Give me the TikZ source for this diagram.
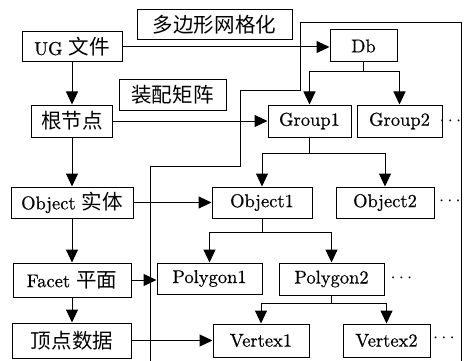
\documentclass[tikz,border=0pt]{standalone}
\usepackage{fontspec}
\usepackage{graphicx}
\setmainfont{Latin Modern Roman}[FakeBold=0.5]
\newfontfamily\cjk{Noto Sans CJK SC}[Scale=1.11]
\newcommand\boxtxt[1]{\scalebox{1.85}{\fontsize{10}{12}\selectfont #1}}
\usetikzlibrary{arrows.meta}
\begin{document}
\begin{tikzpicture}[x=1pt,y=-1pt,
  box/.style={draw, line width=1pt, inner sep=0pt},
  ln/.style={line width=1pt},
  arr/.style={line width=1pt, -{Triangle[length=13pt,width=12pt]}},
  dots/.style={inner sep=0pt}]
\useasboundingbox (0,0) rectangle (466,361);
% frame
\draw[ln] (150,361) -- (150,166) -- (240,166) -- (240,91) -- (300,91) -- (300,23) -- (461,23) -- (461,361);
% left column
\node[box, minimum width=155pt, minimum height=30pt] (mesh) at (214.5,25) {\boxtxt{\cjk 多边形网格化}};
\node[box, minimum width=100pt, minimum height=30pt] (ug) at (72,47) {\boxtxt{UG {\cjk 文件}}};
\node[box, minimum width=107pt, minimum height=30pt] (asm) at (172.5,95) {\boxtxt{\cjk 装配矩阵}};
\node[box, minimum width=81pt, minimum height=32pt] (root) at (72,121) {\boxtxt{\cjk 根节点}};
\node[box, minimum width=122pt, minimum height=31pt] (obj) at (72,202.5) {\boxtxt{Object {\cjk 实体}}};
\node[box, minimum width=118pt, minimum height=34pt] (facet) at (72,280) {\boxtxt{Facet {\cjk 平面}}};
\node[box, minimum width=119pt, minimum height=35pt] (vd) at (72,340.5) {\boxtxt{\cjk 顶点数据}};
% right tree
\node[box, minimum width=67pt, minimum height=32pt] (db) at (363.5,46) {\boxtxt{Db}};
\node[box, minimum width=83pt, minimum height=32pt] (g1) at (309.5,121) {\boxtxt{Group1}};
\node[box, minimum width=85pt, minimum height=32pt] (g2) at (399.5,121) {\boxtxt{Group2}};
\node[box, minimum width=100pt, minimum height=31pt] (o1) at (262,202.5) {\boxtxt{Object1}};
\node[box, minimum width=98pt, minimum height=31pt] (o2) at (385,202.5) {\boxtxt{Object2}};
\node[box, minimum width=105pt, minimum height=31pt] (p1) at (209.5,278.5) {\boxtxt{Polygon1}};
\node[box, minimum width=105pt, minimum height=32pt] (p2) at (331.5,279) {\boxtxt{Polygon2}};
\node[box, minimum width=96pt, minimum height=33pt] (v1) at (261,340.5) {\boxtxt{Vertex1}};
\node[box, minimum width=87pt, minimum height=33pt] (v2) at (386.5,340.5) {\boxtxt{Vertex2}};
% dots
\node[dots] (dg) at (450.5,121) {\boxtxt{$\cdots$}};
\node[dots] (do) at (450,201) {\boxtxt{$\cdots$}};
\node[dots] (dp) at (401.5,278) {\boxtxt{$\cdots$}};
\node[dots] (dv) at (444,338) {\boxtxt{$\cdots$}};
% vertical arrows left
\draw[arr] (ug) -- (root);
\draw[arr] (root) -- (obj);
\draw[arr] (obj) -- (facet);
\draw[arr] (facet) -- (vd);
% horizontal arrows
\draw[arr] (ug.east) -- (ug.east -| db.west);
\draw[arr] (root.east) -- (root.east -| g1.west);
\draw[arr] (obj.east) -- (obj.east -| o1.west);
\draw[arr] (facet.east) -- (facet.east -| p1.west);
\draw[arr] (vd.east) -- (vd.east -| v1.west);
% tree connectors
\draw[ln] (db.south) -- ++(0,9) coordinate (j1);
\draw[arr] (j1) -| (g1.north);
\draw[arr] (j1) -| (g2.north);
\draw[ln] (g1.south) -- ++(0,16) coordinate (j2);
\draw[arr] (j2) -| (o1.north);
\draw[arr] (j2) -| (o2.north);
\draw[ln] (o1.south) -- ++(0,14) coordinate (j3);
\draw[arr] (j3) -| (p1.north);
\draw[arr] (j3) -| (p2.north);
\draw[ln] (p2.south) -- ++(0,8) coordinate (j4);
\draw[arr] (j4) -| (v1.north);
\draw[arr] (j4) -| (v2.north);
\end{tikzpicture}
\end{document}
